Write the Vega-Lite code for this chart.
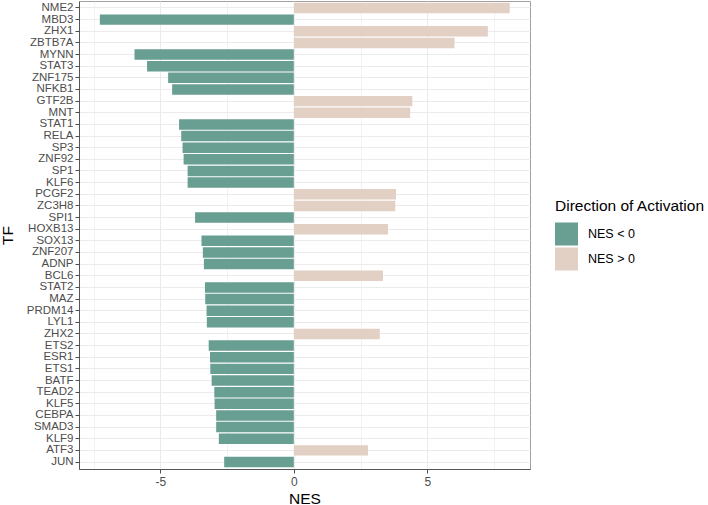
{
  "$schema": "https://vega.github.io/schema/vega-lite/v6.json",
  "width": 451,
  "height": 468,
  "autosize": {"type": "none"},
  "padding": {"left": 79, "top": 1, "right": 178, "bottom": 36},
  "background": "white",
  "config": {
    "font": "Liberation Sans",
    "view": {"stroke": "#a0a0a0", "strokeWidth": 1}
  },
  "data": {
    "values": [
      {"TF": "NME2", "NES": 8.09, "Direction": "NES > 0"},
      {"TF": "MBD3", "NES": -7.27, "Direction": "NES < 0"},
      {"TF": "ZHX1", "NES": 7.27, "Direction": "NES > 0"},
      {"TF": "ZBTB7A", "NES": 6.02, "Direction": "NES > 0"},
      {"TF": "MYNN", "NES": -5.97, "Direction": "NES < 0"},
      {"TF": "STAT3", "NES": -5.5, "Direction": "NES < 0"},
      {"TF": "ZNF175", "NES": -4.71, "Direction": "NES < 0"},
      {"TF": "NFKB1", "NES": -4.56, "Direction": "NES < 0"},
      {"TF": "GTF2B", "NES": 4.44, "Direction": "NES > 0"},
      {"TF": "MNT", "NES": 4.36, "Direction": "NES > 0"},
      {"TF": "STAT1", "NES": -4.3, "Direction": "NES < 0"},
      {"TF": "RELA", "NES": -4.22, "Direction": "NES < 0"},
      {"TF": "SP3", "NES": -4.17, "Direction": "NES < 0"},
      {"TF": "ZNF92", "NES": -4.13, "Direction": "NES < 0"},
      {"TF": "SP1", "NES": -3.98, "Direction": "NES < 0"},
      {"TF": "KLF6", "NES": -3.98, "Direction": "NES < 0"},
      {"TF": "PCGF2", "NES": 3.83, "Direction": "NES > 0"},
      {"TF": "ZC3H8", "NES": 3.8, "Direction": "NES > 0"},
      {"TF": "SPI1", "NES": -3.7, "Direction": "NES < 0"},
      {"TF": "HOXB13", "NES": 3.53, "Direction": "NES > 0"},
      {"TF": "SOX13", "NES": -3.46, "Direction": "NES < 0"},
      {"TF": "ZNF207", "NES": -3.41, "Direction": "NES < 0"},
      {"TF": "ADNP", "NES": -3.37, "Direction": "NES < 0"},
      {"TF": "BCL6", "NES": 3.34, "Direction": "NES > 0"},
      {"TF": "STAT2", "NES": -3.33, "Direction": "NES < 0"},
      {"TF": "MAZ", "NES": -3.32, "Direction": "NES < 0"},
      {"TF": "PRDM14", "NES": -3.27, "Direction": "NES < 0"},
      {"TF": "LYL1", "NES": -3.26, "Direction": "NES < 0"},
      {"TF": "ZHX2", "NES": 3.22, "Direction": "NES > 0"},
      {"TF": "ETS2", "NES": -3.19, "Direction": "NES < 0"},
      {"TF": "ESR1", "NES": -3.14, "Direction": "NES < 0"},
      {"TF": "ETS1", "NES": -3.13, "Direction": "NES < 0"},
      {"TF": "BATF", "NES": -3.08, "Direction": "NES < 0"},
      {"TF": "TEAD2", "NES": -2.98, "Direction": "NES < 0"},
      {"TF": "KLF5", "NES": -2.97, "Direction": "NES < 0"},
      {"TF": "CEBPA", "NES": -2.91, "Direction": "NES < 0"},
      {"TF": "SMAD3", "NES": -2.91, "Direction": "NES < 0"},
      {"TF": "KLF9", "NES": -2.81, "Direction": "NES < 0"},
      {"TF": "ATF3", "NES": 2.78, "Direction": "NES > 0"},
      {"TF": "JUN", "NES": -2.61, "Direction": "NES < 0"}
    ]
  },
  "mark": {"type": "bar"},
  "encoding": {
    "y": {
      "field": "TF",
      "type": "nominal",
      "sort": null,
      "scale": {"paddingInner": 0.1, "paddingOuter": 0.15},
      "axis": {
        "title": "TF",
        "grid": true,
        "bandPosition": 0.5,
        "gridColor": "#ebebeb",
        "gridWidth": 1,
        "domain": true,
        "domainColor": "#555555",
        "domainWidth": 1,
        "tickColor": "#4d4d4d",
        "tickSize": 4,
        "labelFontSize": 11.5,
        "labelColor": "#4d4d4d",
        "labelPadding": 2,
        "titleFontSize": 15.5,
        "titleFontWeight": "normal",
        "titleColor": "black",
        "titleX": -64,
        "titleY": 234
      }
    },
    "x": {
      "field": "NES",
      "type": "quantitative",
      "scale": {"domain": [-8.05, 8.85], "nice": false, "zero": false},
      "axis": {
        "title": "NES",
        "values": [-7.5, -5, -2.5, 0, 2.5, 5, 7.5],
        "labelExpr": "datum.value % 5 === 0 ? (datum.value < 0 ? '-' + (-datum.value) : '' + datum.value) : ''",
        "grid": true,
        "gridColor": "#ebebeb",
        "gridWidth": {"condition": {"test": "datum.value % 5 !== 0", "value": 0.7}, "value": 1},
        "domain": true,
        "domainColor": "#555555",
        "domainWidth": 1,
        "tickColor": "#4d4d4d",
        "tickSize": 4,
        "tickOpacity": {"condition": {"test": "datum.value % 5 !== 0", "value": 0}, "value": 1},
        "labelFontSize": 12,
        "labelColor": "#4d4d4d",
        "labelPadding": 3,
        "labelFlush": false,
        "titleFontSize": 15.5,
        "titleFontWeight": "normal",
        "titleColor": "black",
        "titleBaseline": "alphabetic",
        "titleY": 34
      }
    },
    "color": {
      "field": "Direction",
      "type": "nominal",
      "scale": {"domain": ["NES < 0", "NES > 0"], "range": ["#699e92", "#e3d0c4"]},
      "legend": {
        "title": "Direction of Activation",
        "orient": "none",
        "legendX": 476,
        "legendY": 198,
        "titleFontSize": 15.5,
        "titleFontWeight": "normal",
        "titleColor": "black",
        "titlePadding": 8,
        "symbolType": "square",
        "symbolSize": 529,
        "symbolStrokeWidth": 0,
        "symbolOpacity": 1,
        "rowPadding": 2,
        "labelFontSize": 12.5,
        "labelColor": "black",
        "labelOffset": 10
      }
    }
  }
}
